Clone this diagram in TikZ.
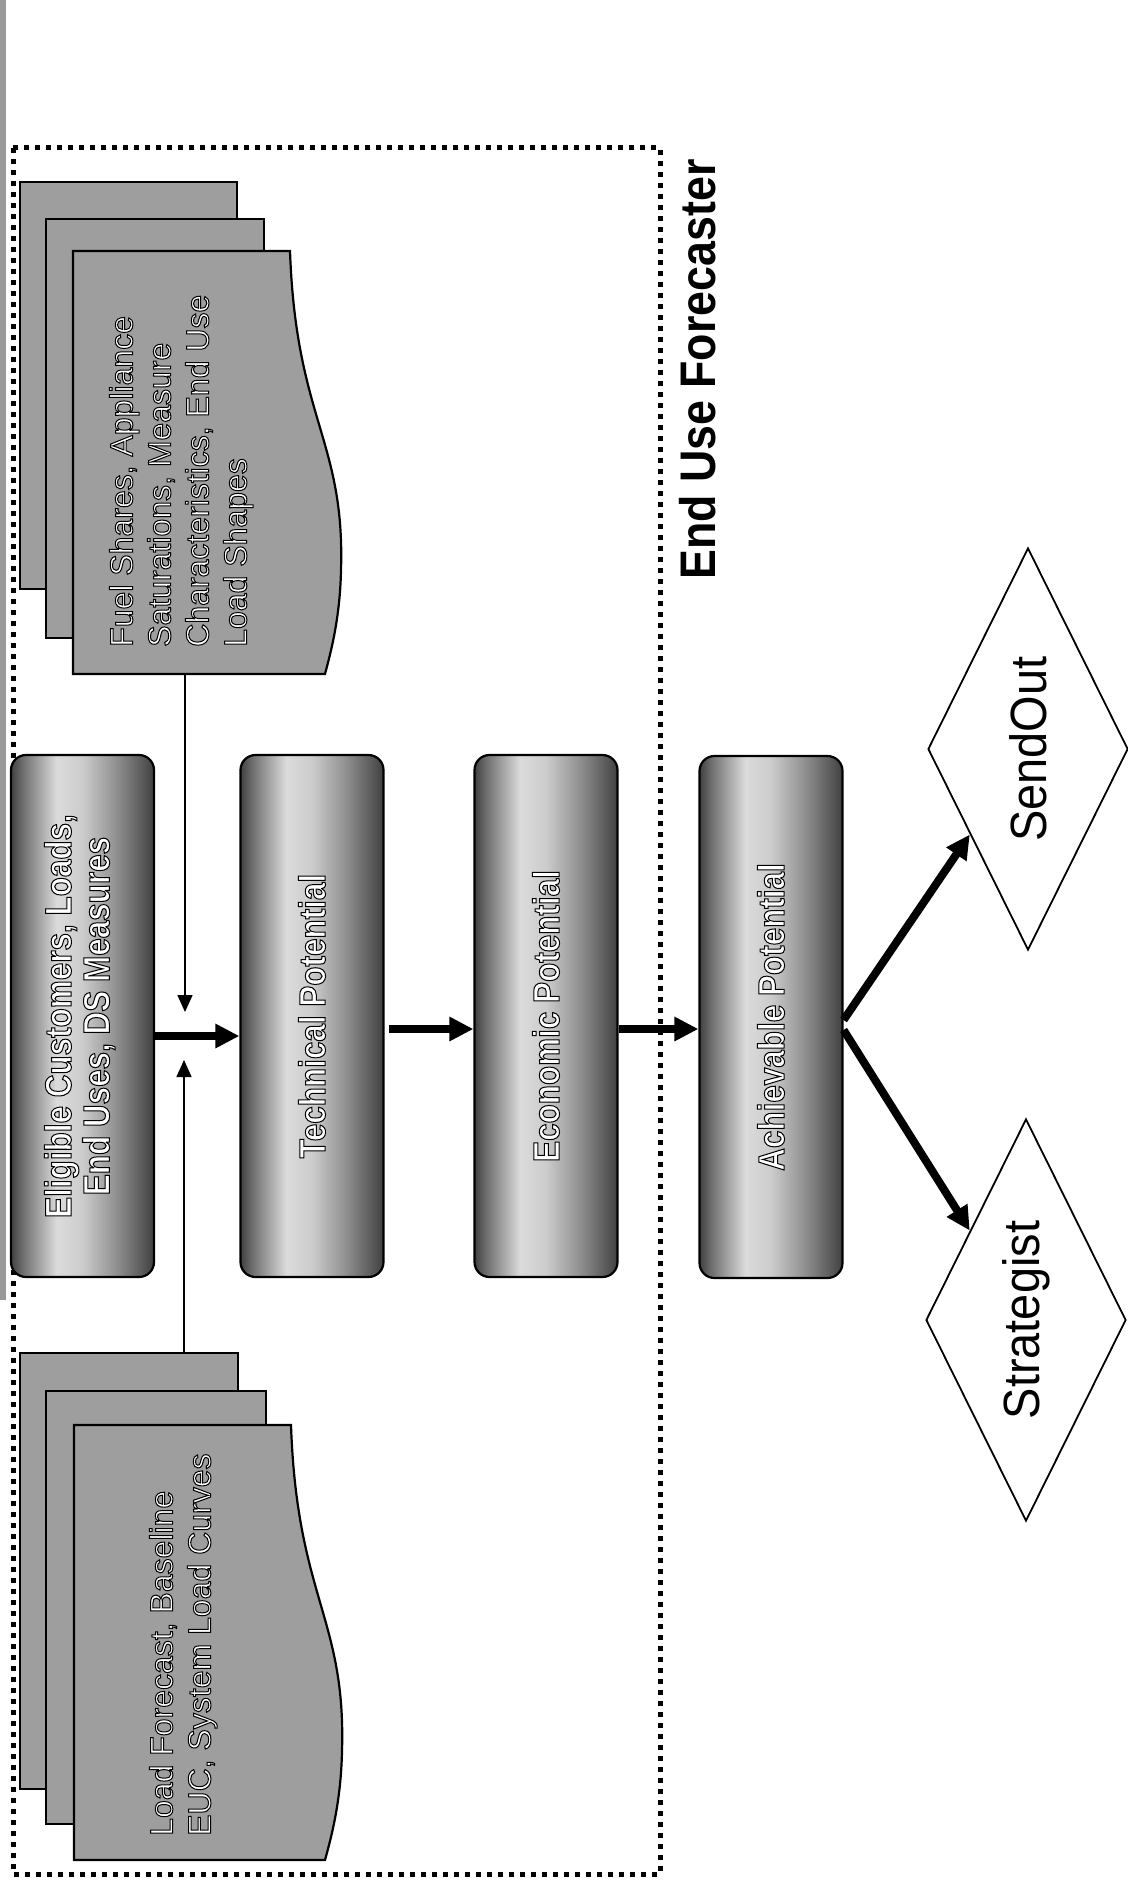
\documentclass[tikz,border=0pt]{standalone}
\usepackage{graphicx}
\usepackage{fontspec}
\setmainfont{Liberation Sans}
\newfontfamily\boxfont{Liberation Sans Bold}[FakeStretch=0.85]
\newfontfamily\titlefont{Liberation Sans}[FakeStretch=0.895]
\newfontfamily\dmdfont{Liberation Sans}[FakeStretch=0.92]
\usetikzlibrary{arrows.meta,shapes.geometric}
\pgfdeclarehorizontalshading{cylsh}{100bp}{color(0bp)=(black!75); color(25bp)=(black!75); color(29bp)=(black!57); color(41bp)=(black!14); color(50bp)=(black!20); color(62bp)=(black!44); color(71bp)=(black!65); color(75bp)=(black!75); color(100bp)=(black!75)}
\newcommand\outl[1]{\special{pdf:literal direct 0 0 0 RG 1 w 2 Tr}#1\special{pdf:literal direct 0 Tr}}
\begin{document}
\begin{tikzpicture}[x=1pt,y=-1pt,
  sheet/.style={draw=black, line width=2.2pt, fill=black!38},
  cylbox/.style={draw=black, line width=2.2pt, rounded corners=15pt, shade, shading=cylsh,
    minimum width=143pt, minimum height=522pt, inner sep=0pt, text=white,
    font=\boxfont\fontsize{37}{38}\selectfont},
  dmd/.style={diamond, draw=black, line width=1.8pt, aspect=0.5, minimum width=200pt,
    minimum height=402pt, inner sep=0pt, font=\dmdfont\fontsize{51}{60}\selectfont},
  doctext/.style={anchor=south, inner sep=0pt, text=white, font=\fontsize{32}{38}\selectfont},
  thickarrow/.style={line width=8pt, -{Triangle[length=24pt,width=23pt]}},
  thinarrow/.style={line width=1.6pt, -{Triangle[length=17pt,width=15pt]}},
  frame/.style={line width=5pt, dash pattern=on 5pt off 6pt}
]
\useasboundingbox (0,0) rectangle (1127,1881);
\fill[white] (0,0) rectangle (1127,1881);
% scan strip at left edge
\fill[black!40] (0,0) rectangle (6,1300);

% dotted frame
\draw[frame] (13,148) rectangle (660,1874);

% title
\node[rotate=90, anchor=base west, inner sep=0pt, font=\titlefont\bfseries\fontsize{50}{60}\selectfont] (title) at (715,580) {End Use Forecaster};

% top document stack
\draw[sheet] (20,182) rectangle (237,589);
\draw[sheet] (46,219) rectangle (264,638);
\draw[sheet] (73,251) -- (290,251) .. controls (296,420) and (345,440) .. (341,570)
  .. controls (340,620) and (330,655) .. (325,674) -- (73,674) -- cycle;
\node[doctext] (doc1) at (182,647) {\rotatebox{90}{\outl{\begin{tabular}{@{}l@{}}Fuel Shares, Appliance\\ Saturations, Measure\\ Characteristics, End Use\\ Load Shapes\end{tabular}}}};

% bottom document stack
\draw[sheet] (20,1353) rectangle (238,1789);
\draw[sheet] (46,1391) rectangle (266,1824);
\draw[sheet] (74,1425) -- (291,1425) .. controls (297,1598) and (346,1618) .. (342,1751)
  .. controls (341,1802) and (331,1838) .. (325,1860) -- (74,1860) -- cycle;
\node[doctext] (doc2) at (184,1836) {\rotatebox{90}{\outl{\begin{tabular}{@{}l@{}}Load Forecast, Baseline\\ EUC, System Load Curves\end{tabular}}}};

% process boxes
\node[cylbox] (elig) at (82.5,1016) {\rotatebox{90}{\outl{\begin{tabular}{@{}c@{}}Eligible Customers, Loads,\\ End Uses, DS Measures\end{tabular}}}};
\node[cylbox] (tech) at (312,1016) {\rotatebox{90}{\outl{Technical Potential}}};
\node[cylbox] (econ) at (546,1016) {\rotatebox{90}{\outl{Economic Potential}}};
\node[cylbox] (ach) at (771,1017) {\rotatebox{90}{\outl{Achievable Potential}}};

% output diamonds
\node[dmd] (sendout) at (1028,749) {\rotatebox{90}{SendOut}};
\node[dmd] (strat) at (1026,1320) {\rotatebox{90}{Strategist}};

% thin input arrows
\coordinate (s1) at (185,674);
\coordinate (t1) at (185,1012);
\coordinate (s2) at (184,1353);
\coordinate (t2) at (184,1060);
\draw[thinarrow] (s1) -- (t1);
\draw[thinarrow] (s2) -- (t2);

% thick flow arrows
\draw[thickarrow] ([yshift=-20pt]elig.east) -- ([yshift=-20pt]tech.west);
\draw[thickarrow] ([xshift=4pt,yshift=-13pt]tech.east) -- ([yshift=-13pt]econ.west);
\draw[thickarrow] ([yshift=-13pt]econ.east) -- ([yshift=-12pt]ach.west);
\draw[thickarrow] ([yshift=-3pt]ach.east) -- (sendout);
\draw[thickarrow] ([yshift=-13pt]ach.east) -- (strat);
\end{tikzpicture}
\end{document}
